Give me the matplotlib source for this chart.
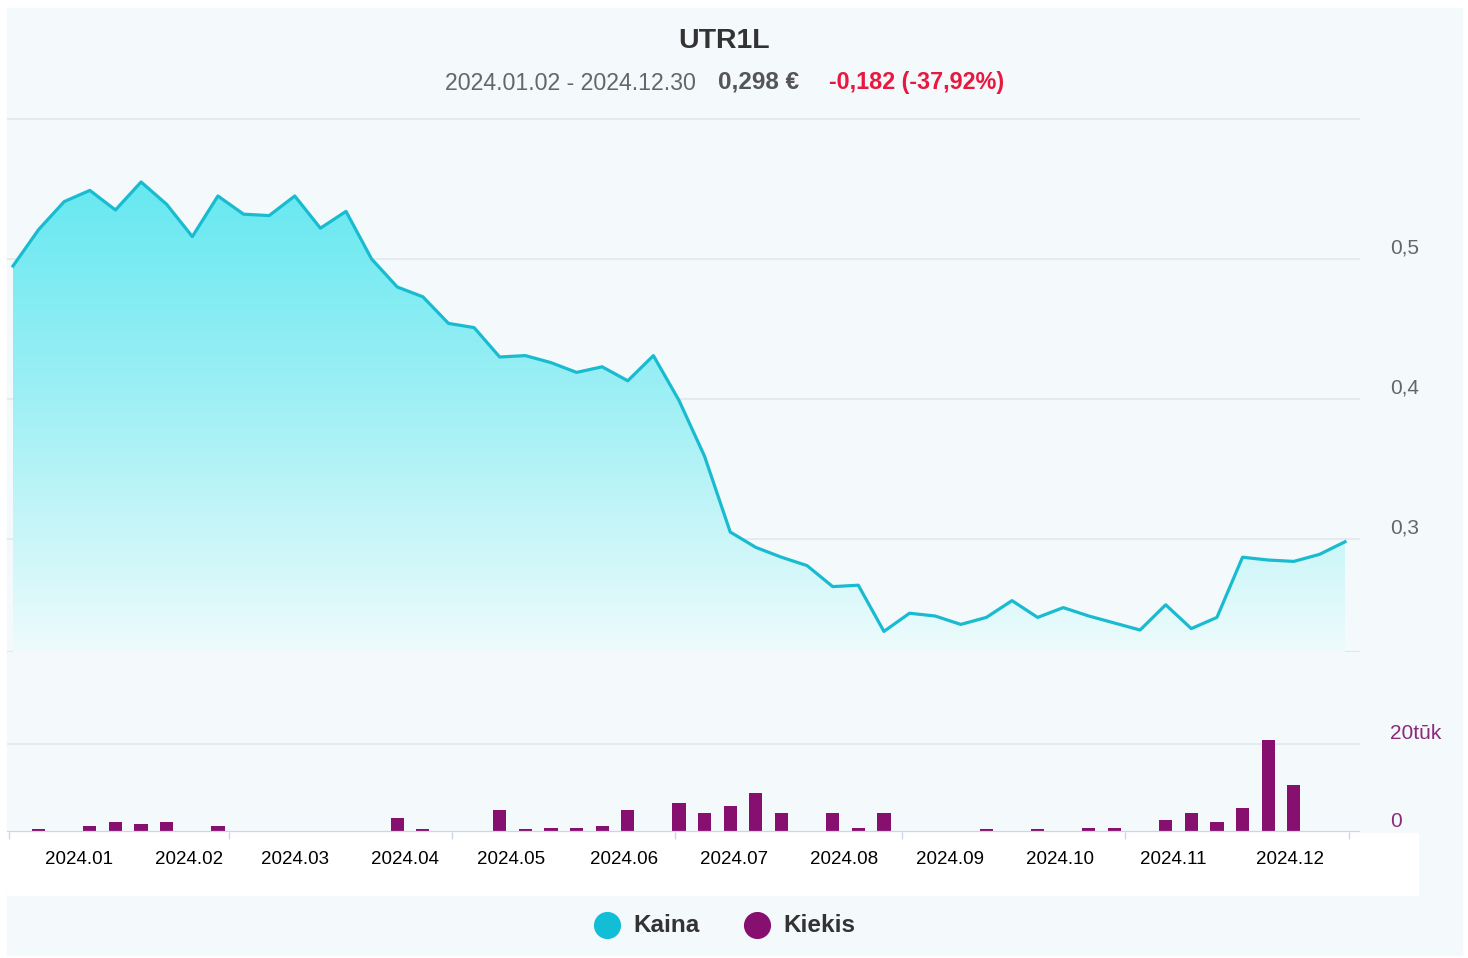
import numpy as np
import pandas as pd
import matplotlib
matplotlib.use("Agg")
import matplotlib.pyplot as plt
import matplotlib.dates as mdates
from matplotlib.colors import LinearSegmentedColormap
from matplotlib.lines import Line2D
from matplotlib.patches import Rectangle
import matplotlib.transforms as mtransforms

plt.rcParams['font.family'] = ['Liberation Sans', 'DejaVu Sans']

# weekly closing prices, EUR
dates = pd.date_range("2024-01-02", periods=53, freq="7D")
price = [0.495, 0.521, 0.541, 0.549, 0.535, 0.555, 0.539, 0.516, 0.545, 0.532,
         0.531, 0.545, 0.522, 0.534, 0.500, 0.480, 0.473, 0.454, 0.451, 0.430,
         0.431, 0.426, 0.419, 0.423, 0.413, 0.431, 0.399, 0.359, 0.305, 0.294,
         0.287, 0.281, 0.266, 0.267, 0.234, 0.247, 0.245, 0.239, 0.244, 0.256,
         0.244, 0.251, 0.245, 0.240, 0.235, 0.253, 0.236, 0.244, 0.287, 0.285,
         0.284, 0.289, 0.298]
# weekly volume, shares
volume = [0, 600, 0, 1400, 2200, 1800, 2200, 0, 1400, 0,
          0, 0, 0, 0, 0, 3200, 600, 0, 0, 4900,
          600, 1000, 1000, 1400, 4900, 0, 6700, 4400, 5800, 8800,
          4400, 0, 4400, 1000, 4400, 0, 0, 0, 600, 0,
          600, 0, 1000, 1000, 0, 2700, 4400, 2200, 5400, 21000,
          10600, 0, 0]

price_ticks = [0.3, 0.4, 0.5]
price_tick_labels = ["0,3", "0,4", "0,5"]
vol_ticks = [0, 20000]
vol_tick_labels = ["0", "20tūk"]
month_labels = ["2024.%02d" % m for m in range(1, 13)]
label_days = [20, 19, 19, 18, 17, 17, 17, 16, 14, 14, 14, 16]

title = "UTR1L"
period_text = "2024.01.02 - 2024.12.30"
last_text = "0,298 €"
change_text = "-0,182 (-37,92%)"

W, H = 1468, 958
BG = "#f4f9fc"
GRID = "#e2e7ec"
LINE = "#19bbd0"
BAR = "#870f6f"


def fx(px):
    return px / W


def fy(py):
    return 1 - py / H


fig = plt.figure(figsize=(W / 100, H / 100), dpi=100)
fig.patch.set_facecolor("white")
fig.add_artist(Rectangle((fx(7), fy(955)), fx(1462) - fx(7), fy(8) - fy(955),
                         transform=fig.transFigure, color=BG, zorder=-10))
fig.add_artist(Rectangle((fx(7), fy(895)), fx(1418) - fx(7), fy(833) - fy(895),
                         transform=fig.transFigure, color="white", zorder=-9))

left, right = fx(7), fx(1360)
ax = fig.add_axes([left, fy(652), right - left, fy(118) - fy(652)])
axv = fig.add_axes([left, fy(832), right - left, fy(652) - fy(832)], sharex=ax)
for a in (ax, axv):
    a.set_facecolor("none")
    for s in a.spines.values():
        s.set_visible(False)

# x range: first point at px 13, last at px 1345
d0 = mdates.date2num(dates[0])
d1 = mdates.date2num(dates[-1])
ppd = (1345 - 13) / (d1 - d0)
xmin = d0 - (13 - 7) / ppd
xmax = d1 + (1360 - 1345) / ppd

ylo, yhi = 0.2193, 0.6007

# price line with gradient area
ax.plot(dates, price, color=LINE, lw=2.3, zorder=3)
fill = ax.fill_between(dates, price, ylo, color="none", lw=0)
cmap = LinearSegmentedColormap.from_list("g", ["#56e6ef", "#9aeff5", "#eefbfc"])
grad = np.linspace(0, 1, 256).reshape(-1, 1)
img = ax.imshow(grad, extent=[xmin, xmax, ylo, yhi], aspect="auto",
                cmap=cmap, origin="upper", zorder=1)
img.set_clip_path(fill.get_paths()[0], transform=ax.transData)

ax.set_xlim(xmin, xmax)
ax.set_ylim(ylo, yhi)
for v in price_ticks + [0.6]:
    ax.axhline(v, color=GRID, lw=1.2, zorder=0.5)
ax.axhline(ylo, color=GRID, lw=1.6, zorder=0.5)

lab_tf = mtransforms.offset_copy(ax.get_yaxis_transform(), fig=fig, x=0, y=1,
                                 units="points")
for v, t in zip(price_ticks, price_tick_labels):
    ax.text(1.0222, v, t, transform=lab_tf, ha="left", va="bottom",
            fontsize=15, color="#666666")

# volume bars
axv.bar(dates, volume, width=3.6, color=BAR, zorder=3)
axv.set_ylim(0, 40900)
axv.axhline(20000, color=GRID, lw=1.2, zorder=0.5)
axv.axhline(0, color="#ccd6eb", lw=1.6, zorder=4)
vtf = mtransforms.offset_copy(axv.get_yaxis_transform(), fig=fig, x=0, y=1,
                              units="points")
for v, t in zip(vol_ticks, vol_tick_labels):
    axv.text(1.0222, v, t, transform=vtf, ha="left", va="bottom",
             fontsize=15, color="#8b2a7c")

tick_marks = [pd.Timestamp(2024, m, 1) for m in (1, 3, 5, 7, 9, 11)] + [pd.Timestamp(2025, 1, 1)]
axv.set_xticks(tick_marks)
axv.set_xticks([pd.Timestamp(2024, m, d) for m, d in zip(range(1, 13), label_days)],
               minor=True)
axv.set_xticklabels([], minor=False)
axv.set_xticklabels(month_labels, minor=True)
axv.tick_params(axis="x", which="major", length=5, width=1, color="#ccd6eb")
axv.tick_params(axis="x", which="minor", length=0, pad=14, labelsize=13.5,
                labelcolor="black")
axv.tick_params(axis="y", left=False, labelleft=False)
ax.tick_params(axis="both", which="both", left=False, right=False, bottom=False,
               labelleft=False, labelbottom=False)
axv.set_xlim(xmin, xmax)

# title block
fig.text(fx(724), fy(41), title, ha="center", va="center", fontsize=20.5,
         fontweight="bold", color="#333333")
fig.text(fx(445), fy(83), period_text, ha="left", va="center", fontsize=16.7,
         color="#666666")
fig.text(fx(718), fy(82), last_text, ha="left", va="center", fontsize=17.5,
         color="#555555", fontweight="bold")
fig.text(fx(829), fy(83), change_text, ha="left", va="center", fontsize=16.8,
         color="#e8183f", fontweight="bold")

# legend
for cx, col, tx, lab in [(607, "#12bdd5", 633, "Kaina"), (757, BAR, 783, "Kiekis")]:
    fig.add_artist(Line2D([fx(cx)], [fy(925)], marker="o", markersize=18.5,
                          color=col, transform=fig.transFigure, lw=0))
    fig.text(fx(tx), fy(926), lab, ha="left", va="center", fontsize=17.5,
             fontweight="bold", color="#333333")

fig.savefig("out.png", dpi=100, facecolor=fig.get_facecolor())
